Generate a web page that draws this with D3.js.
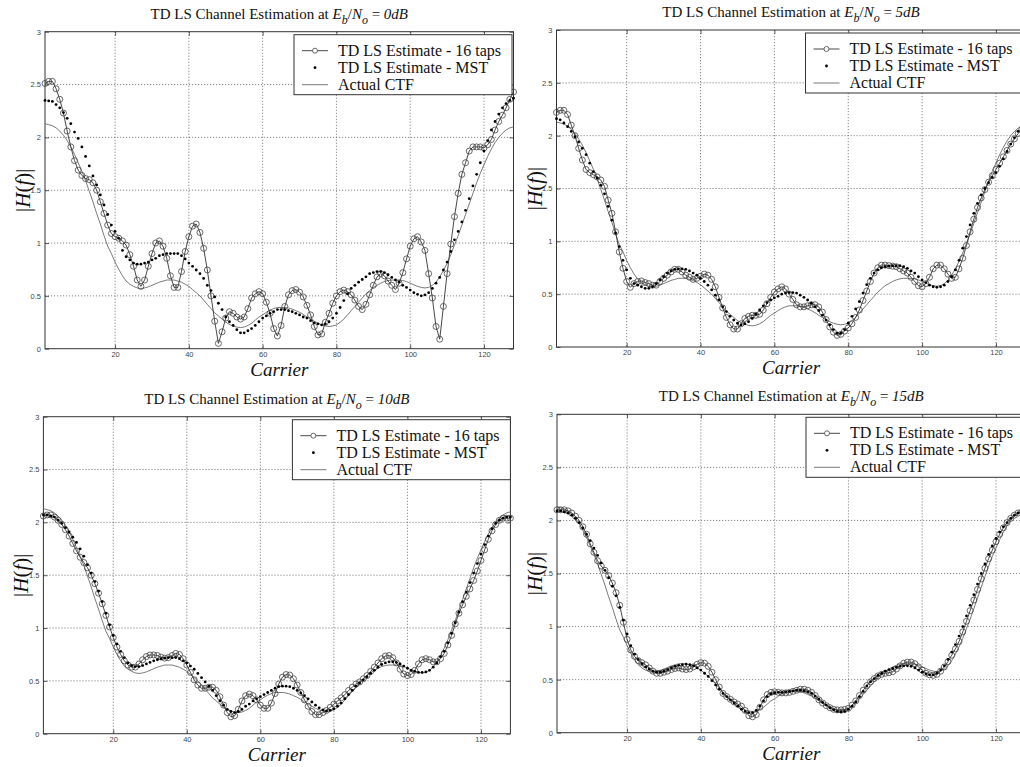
<!DOCTYPE html>
<html>
<head>
<meta charset="utf-8">
<script src="https://cdn.jsdelivr.net/npm/d3@7"></script>
<style>
  body { margin: 0; background: #fff; }
  svg { display: block; }
</style>
</head>
<body>
<svg id="chart" width="1020" height="767"></svg>
<script>
// ---- data ----
const carriers = d3.range(1, 129);
const xTicks = [20, 40, 60, 80, 100, 120];
const yTicks = [0, 0.5, 1, 1.5, 2, 2.5, 3];
const snrLabels = ['0dB', '5dB', '10dB', '15dB'];
const legendLabels = ['TD LS Estimate - 16 taps', 'TD LS Estimate - MST', 'Actual CTF'];

const actualCTF = [
  2.13, 2.12, 2.11, 2.09, 2.06, 2.02, 1.97, 1.91, 1.84, 1.76,
  1.68, 1.59, 1.49, 1.39, 1.28, 1.18, 1.07, 0.97, 0.90, 0.82,
  0.75, 0.69, 0.64, 0.61, 0.59, 0.575, 0.57, 0.575, 0.585, 0.60,
  0.615, 0.63, 0.64, 0.65, 0.65, 0.65, 0.64, 0.63, 0.61, 0.59,
  0.56, 0.53, 0.50, 0.46, 0.42, 0.38, 0.34, 0.31, 0.28, 0.25,
  0.23, 0.215, 0.205, 0.20, 0.205, 0.22, 0.24, 0.27, 0.30, 0.32,
  0.345, 0.365, 0.38, 0.39, 0.39, 0.39, 0.385, 0.375, 0.36, 0.345,
  0.325, 0.30, 0.28, 0.26, 0.24, 0.225, 0.215, 0.21, 0.215, 0.225,
  0.25, 0.28, 0.32, 0.36, 0.40, 0.44, 0.48, 0.52, 0.55, 0.58,
  0.60, 0.62, 0.635, 0.645, 0.65, 0.65, 0.65, 0.645, 0.635, 0.62,
  0.605, 0.59, 0.58, 0.575, 0.58, 0.60, 0.63, 0.68, 0.74, 0.81,
  0.89, 0.98, 1.07, 1.17, 1.27, 1.37, 1.47, 1.57, 1.66, 1.74,
  1.82, 1.89, 1.95, 2.00, 2.04, 2.07, 2.09, 2.10
];

const taps16_0dB = [
  2.51, 2.53, 2.53, 2.46, 2.36, 2.23, 2.06, 1.91, 1.78, 1.69,
  1.64, 1.61, 1.60, 1.57, 1.50, 1.39, 1.28, 1.17, 1.09, 1.06,
  1.045, 1.02, 0.98, 0.89, 0.78, 0.65, 0.59, 0.65, 0.78, 0.90,
  1.00, 1.02, 0.97, 0.855, 0.69, 0.58, 0.58, 0.73, 0.92, 1.06,
  1.16, 1.18, 1.10, 0.95, 0.745, 0.50, 0.26, 0.05, 0.16, 0.29,
  0.35, 0.335, 0.30, 0.28, 0.30, 0.38, 0.48, 0.52, 0.54, 0.52,
  0.44, 0.335, 0.19, 0.12, 0.22, 0.40, 0.51, 0.55, 0.56, 0.535,
  0.49, 0.41, 0.32, 0.21, 0.13, 0.14, 0.25, 0.335, 0.43, 0.50,
  0.54, 0.555, 0.54, 0.51, 0.46, 0.40, 0.37, 0.42, 0.51, 0.60,
  0.68, 0.71, 0.69, 0.64, 0.60, 0.56, 0.62, 0.72, 0.85, 0.97,
  1.04, 1.06, 1.01, 0.93, 0.71, 0.48, 0.21, 0.09, 0.40, 0.71,
  0.99, 1.25, 1.47, 1.65, 1.76, 1.87, 1.91, 1.91, 1.91, 1.90,
  1.93, 1.98, 2.07, 2.15, 2.21, 2.28, 2.36, 2.43
];
const mst_0dB = [
  2.35, 2.345, 2.34, 2.31, 2.28, 2.235, 2.18, 2.13, 2.05, 1.99,
  1.91, 1.82, 1.73, 1.635, 1.55, 1.455, 1.36, 1.27, 1.17, 1.11,
  1.045, 0.93, 0.87, 0.84, 0.81, 0.80, 0.80, 0.81, 0.82, 0.84,
  0.855, 0.88, 0.89, 0.90, 0.90, 0.90, 0.90, 0.88, 0.85, 0.81,
  0.78, 0.745, 0.71, 0.665, 0.60, 0.55, 0.49, 0.43, 0.37, 0.30,
  0.255, 0.22, 0.18, 0.15, 0.15, 0.17, 0.19, 0.22, 0.255, 0.29,
  0.31, 0.335, 0.35, 0.37, 0.37, 0.37, 0.36, 0.35, 0.335, 0.32,
  0.30, 0.29, 0.265, 0.245, 0.235, 0.225, 0.235, 0.255, 0.29, 0.335,
  0.39, 0.455, 0.52, 0.57, 0.60, 0.63, 0.655, 0.68, 0.71, 0.72,
  0.73, 0.73, 0.72, 0.70, 0.675, 0.65, 0.63, 0.60, 0.58, 0.555,
  0.53, 0.515, 0.50, 0.51, 0.53, 0.57, 0.62, 0.675, 0.745, 0.82,
  0.92, 1.03, 1.11, 1.20, 1.31, 1.42, 1.54, 1.65, 1.76, 1.87,
  1.97, 2.07, 2.15, 2.22, 2.28, 2.32, 2.35, 2.37
];

const taps16_5dB = [
  2.22, 2.24, 2.24, 2.20, 2.10, 2.00, 1.88, 1.77, 1.68, 1.65,
  1.63, 1.61, 1.58, 1.52, 1.39, 1.265, 1.09, 0.90, 0.745, 0.62,
  0.565, 0.60, 0.62, 0.625, 0.61, 0.60, 0.585, 0.585, 0.62, 0.65,
  0.68, 0.71, 0.735, 0.735, 0.71, 0.68, 0.66, 0.64, 0.65, 0.67,
  0.69, 0.68, 0.64, 0.57, 0.47, 0.37, 0.28, 0.21, 0.17, 0.17,
  0.22, 0.27, 0.29, 0.30, 0.30, 0.31, 0.35, 0.41, 0.47, 0.52,
  0.55, 0.57, 0.55, 0.50, 0.45, 0.40, 0.38, 0.38, 0.39, 0.40,
  0.40, 0.38, 0.33, 0.26, 0.19, 0.14, 0.11, 0.12, 0.15, 0.18,
  0.22, 0.28, 0.35, 0.44, 0.53, 0.62, 0.70, 0.75, 0.775, 0.775,
  0.77, 0.765, 0.76, 0.74, 0.72, 0.70, 0.66, 0.62, 0.58, 0.57,
  0.60, 0.66, 0.74, 0.775, 0.775, 0.74, 0.69, 0.65, 0.66, 0.74,
  0.84, 0.96, 1.09, 1.21, 1.32, 1.41, 1.49, 1.56, 1.62, 1.68,
  1.74, 1.80, 1.86, 1.92, 1.97, 2.02, 2.06, 2.10
];
const mst_5dB = [
  2.16, 2.15, 2.12, 2.085, 2.04, 1.99, 1.94, 1.88, 1.82, 1.74,
  1.66, 1.60, 1.53, 1.45, 1.33, 1.20, 1.08, 0.95, 0.82, 0.73,
  0.65, 0.60, 0.585, 0.57, 0.555, 0.555, 0.57, 0.60, 0.635, 0.665,
  0.70, 0.72, 0.735, 0.74, 0.74, 0.735, 0.72, 0.70, 0.68, 0.65,
  0.62, 0.585, 0.54, 0.49, 0.445, 0.38, 0.335, 0.29, 0.255, 0.225,
  0.21, 0.22, 0.24, 0.27, 0.31, 0.35, 0.39, 0.42, 0.445, 0.465,
  0.48, 0.50, 0.51, 0.515, 0.515, 0.51, 0.49, 0.47, 0.445, 0.415,
  0.38, 0.345, 0.30, 0.255, 0.21, 0.165, 0.13, 0.13, 0.165, 0.225,
  0.29, 0.36, 0.43, 0.51, 0.59, 0.65, 0.70, 0.73, 0.75, 0.76,
  0.765, 0.77, 0.77, 0.77, 0.76, 0.745, 0.72, 0.70, 0.665, 0.635,
  0.61, 0.585, 0.57, 0.565, 0.57, 0.585, 0.62, 0.665, 0.73, 0.82,
  0.935, 1.045, 1.155, 1.265, 1.36, 1.44, 1.50, 1.555, 1.605, 1.65,
  1.71, 1.78, 1.85, 1.92, 1.98, 2.04, 2.09, 2.13
];

const taps16_10dB = [
  2.06, 2.07, 2.07, 2.05, 2.02, 1.98, 1.93, 1.87, 1.80, 1.73,
  1.67, 1.62, 1.57, 1.50, 1.42, 1.33, 1.23, 1.12, 1.01, 0.91,
  0.82, 0.75, 0.69, 0.65, 0.63, 0.63, 0.66, 0.70, 0.73, 0.745,
  0.745, 0.74, 0.725, 0.715, 0.72, 0.74, 0.76, 0.75, 0.71, 0.65,
  0.58, 0.51, 0.46, 0.43, 0.43, 0.44, 0.44, 0.41, 0.35, 0.27,
  0.20, 0.16, 0.17, 0.23, 0.31, 0.36, 0.375, 0.36, 0.32, 0.27,
  0.24, 0.24, 0.29, 0.38, 0.47, 0.535, 0.56, 0.555, 0.52, 0.46,
  0.39, 0.32, 0.26, 0.21, 0.18, 0.18, 0.20, 0.22, 0.25, 0.28,
  0.31, 0.34, 0.37, 0.41, 0.44, 0.47, 0.49, 0.52, 0.55, 0.59,
  0.63, 0.67, 0.71, 0.735, 0.74, 0.72, 0.67, 0.61, 0.565, 0.55,
  0.56, 0.60, 0.66, 0.70, 0.71, 0.70, 0.68, 0.68, 0.71, 0.76,
  0.84, 0.93, 1.04, 1.14, 1.22, 1.30, 1.37, 1.45, 1.54, 1.64,
  1.74, 1.84, 1.92, 1.98, 2.02, 2.04, 2.04, 2.04
];
const mst_10dB = [
  2.07, 2.07, 2.06, 2.05, 2.02, 1.99, 1.95, 1.91, 1.86, 1.81,
  1.75, 1.68, 1.60, 1.52, 1.44, 1.35, 1.25, 1.14, 1.03, 0.93,
  0.85, 0.78, 0.72, 0.67, 0.645, 0.635, 0.635, 0.645, 0.66, 0.675,
  0.69, 0.70, 0.71, 0.715, 0.72, 0.72, 0.72, 0.71, 0.69, 0.67,
  0.64, 0.61, 0.57, 0.53, 0.49, 0.45, 0.41, 0.36, 0.31, 0.27,
  0.23, 0.21, 0.20, 0.21, 0.23, 0.26, 0.28, 0.31, 0.33, 0.35,
  0.37, 0.39, 0.41, 0.43, 0.445, 0.45, 0.45, 0.445, 0.43, 0.41,
  0.385, 0.36, 0.33, 0.30, 0.27, 0.245, 0.225, 0.215, 0.22, 0.235,
  0.26, 0.29, 0.33, 0.37, 0.41, 0.45, 0.48, 0.51, 0.54, 0.57,
  0.60, 0.63, 0.655, 0.67, 0.68, 0.68, 0.675, 0.66, 0.64, 0.62,
  0.60, 0.59, 0.58, 0.58, 0.585, 0.60, 0.63, 0.67, 0.73, 0.78,
  0.86, 0.95, 1.05, 1.15, 1.25, 1.34, 1.43, 1.52, 1.61, 1.70,
  1.79, 1.87, 1.94, 1.99, 2.02, 2.04, 2.05, 2.05
];

const taps16_15dB = [
  2.10, 2.10, 2.10, 2.09, 2.07, 2.04, 2.00, 1.94, 1.87, 1.78,
  1.70, 1.62, 1.57, 1.53, 1.48, 1.41, 1.32, 1.20, 1.04, 0.88,
  0.78, 0.72, 0.68, 0.66, 0.64, 0.61, 0.58, 0.56, 0.56, 0.57,
  0.58, 0.595, 0.605, 0.61, 0.60, 0.595, 0.60, 0.62, 0.645, 0.66,
  0.655, 0.625, 0.57, 0.50, 0.43, 0.37, 0.34, 0.315, 0.29, 0.27,
  0.25, 0.21, 0.16, 0.15, 0.17, 0.24, 0.31, 0.36, 0.38, 0.385,
  0.38, 0.375, 0.375, 0.38, 0.39, 0.40, 0.41, 0.41, 0.40, 0.38,
  0.35, 0.31, 0.28, 0.255, 0.235, 0.22, 0.215, 0.215, 0.22, 0.23,
  0.26, 0.30, 0.35, 0.40, 0.445, 0.48, 0.51, 0.535, 0.55, 0.56,
  0.565, 0.575, 0.60, 0.63, 0.655, 0.665, 0.665, 0.65, 0.62, 0.59,
  0.56, 0.545, 0.54, 0.55, 0.58, 0.62, 0.67, 0.73, 0.79, 0.86,
  0.95, 1.05, 1.15, 1.25, 1.35, 1.45, 1.55, 1.64, 1.72, 1.80,
  1.87, 1.93, 1.98, 2.02, 2.05, 2.07, 2.08, 2.09
];
const mst_15dB = [
  2.09, 2.09, 2.08, 2.07, 2.05, 2.02, 1.98, 1.93, 1.87, 1.81,
  1.74, 1.67, 1.60, 1.53, 1.46, 1.38, 1.29, 1.18, 1.06, 0.93,
  0.82, 0.74, 0.69, 0.65, 0.62, 0.60, 0.58, 0.57, 0.57, 0.58,
  0.595, 0.61, 0.625, 0.635, 0.64, 0.645, 0.64, 0.63, 0.61, 0.59,
  0.56, 0.53, 0.49, 0.45, 0.41, 0.37, 0.34, 0.31, 0.28, 0.25,
  0.22, 0.20, 0.19, 0.19, 0.21, 0.25, 0.30, 0.34, 0.365, 0.375,
  0.38, 0.38, 0.385, 0.39, 0.395, 0.40, 0.40, 0.395, 0.385, 0.37,
  0.345, 0.315, 0.285, 0.26, 0.235, 0.215, 0.20, 0.195, 0.20, 0.22,
  0.25, 0.29, 0.34, 0.39, 0.44, 0.48, 0.51, 0.54, 0.56, 0.58,
  0.595, 0.605, 0.615, 0.625, 0.63, 0.63, 0.625, 0.61, 0.59, 0.57,
  0.555, 0.545, 0.545, 0.56, 0.59, 0.63, 0.69, 0.76, 0.83, 0.91,
  1.00, 1.10, 1.20, 1.30, 1.40, 1.50, 1.59, 1.68, 1.76, 1.83,
  1.89, 1.94, 1.98, 2.02, 2.05, 2.07, 2.08, 2.09
];

const tapsSeries = [taps16_0dB, taps16_5dB, taps16_10dB, taps16_15dB];
const mstSeries = [mst_0dB, mst_5dB, mst_10dB, mst_15dB];

// ---- layout (plot areas of the four panels) ----
const panels = [
  { left: 45, right: 513.5, top: 31.7, bottom: 348.7 },
  { left: 556.5, right: 1025.5, top: 30, bottom: 347 },
  { left: 43.4, right: 510.4, top: 416.7, bottom: 733.7 },
  { left: 557, right: 1025.5, top: 414.3, bottom: 732.7 }
];

const serif = "'Liberation Serif', 'Times New Roman', serif";
const sans = "'Liberation Sans', Arial, sans-serif";
const svg = d3.select('#chart');

const drawPanel = (i) => {
  const box = panels[i];
  const g = svg.append('g').attr('class', `panel_${i}`);
  const x = d3.scaleLinear().domain([1, 128]).range([box.left, box.right]);
  const y = d3.scaleLinear().domain([0, 3]).range([box.bottom, box.top]);

  // grid
  g.selectAll('line.gx')
    .data(xTicks)
    .enter()
    .append('line')
    .attr('x1', d => x(d)).attr('x2', d => x(d))
    .attr('y1', box.top).attr('y2', box.bottom)
    .attr('stroke', '#555')
    .attr('stroke-width', 0.7)
    .attr('stroke-dasharray', '1.2,1.8');
  g.selectAll('line.gy')
    .data(yTicks.slice(1, -1))
    .enter()
    .append('line')
    .attr('x1', box.left).attr('x2', box.right)
    .attr('y1', d => y(d)).attr('y2', d => y(d))
    .attr('stroke', '#555')
    .attr('stroke-width', 0.7)
    .attr('stroke-dasharray', '1.2,1.8');

  // axes, ticks pointing inward
  const styleAxis = (sel, labels) => {
    sel.select('.domain').remove();
    sel.selectAll('.tick line').attr('stroke', '#333').attr('stroke-width', 0.8);
    sel.selectAll('.tick text')
      .attr('font-family', sans)
      .attr('font-size', 7.5)
      .attr('fill', '#444');
    if (!labels) sel.selectAll('.tick text').remove();
  };
  g.append('g')
    .attr('transform', `translate(0,${box.bottom})`)
    .call(d3.axisBottom(x).tickValues(xTicks).tickSize(-4).tickPadding(3))
    .call(s => styleAxis(s, true));
  g.append('g')
    .attr('transform', `translate(0,${box.top})`)
    .call(d3.axisTop(x).tickValues(xTicks).tickSize(-4))
    .call(s => styleAxis(s, false));
  g.append('g')
    .attr('transform', `translate(${box.left},0)`)
    .call(d3.axisLeft(y).tickValues(yTicks).tickFormat(d => String(d)).tickSize(-4).tickPadding(4))
    .call(s => styleAxis(s, true));
  g.append('g')
    .attr('transform', `translate(${box.right},0)`)
    .call(d3.axisRight(y).tickValues(yTicks).tickSize(-4))
    .call(s => styleAxis(s, false));

  g.append('rect')
    .attr('x', box.left).attr('y', box.top)
    .attr('width', box.right - box.left)
    .attr('height', box.bottom - box.top)
    .attr('fill', 'none')
    .attr('stroke', '#333')
    .attr('stroke-width', 1);

  // actual CTF
  const line = d3.line().x((d, k) => x(carriers[k])).y(d => y(d));
  g.append('path')
    .datum(actualCTF)
    .attr('d', line)
    .attr('fill', 'none')
    .attr('stroke', '#6a6a6a')
    .attr('stroke-width', 0.9);

  // 16 taps estimate: line + open circles
  g.append('path')
    .datum(tapsSeries[i])
    .attr('d', line)
    .attr('fill', 'none')
    .attr('stroke', '#333')
    .attr('stroke-width', 0.9);
  g.selectAll('circle.tap')
    .data(tapsSeries[i])
    .enter()
    .append('circle')
    .attr('cx', (d, k) => x(carriers[k]))
    .attr('cy', d => y(d))
    .attr('r', 3)
    .attr('fill', 'none')
    .attr('stroke', '#444')
    .attr('stroke-width', 0.8);

  // MST estimate: dots
  g.selectAll('circle.mst')
    .data(mstSeries[i])
    .enter()
    .append('circle')
    .attr('cx', (d, k) => x(carriers[k]))
    .attr('cy', d => y(d))
    .attr('r', 1.4)
    .attr('fill', '#000');

  // title
  const cx = (box.left + box.right) / 2;
  const title = g.append('text')
    .attr('x', cx)
    .attr('y', box.top - 13)
    .attr('text-anchor', 'middle')
    .attr('font-family', serif)
    .attr('font-size', 15)
    .attr('fill', '#111');
  title.append('tspan').text('TD LS Channel Estimation at ');
  title.append('tspan').attr('font-style', 'italic').text('E');
  title.append('tspan').attr('font-style', 'italic').attr('font-size', 12).attr('dy', 5).text('b');
  title.append('tspan').attr('dy', -5).text('/');
  title.append('tspan').attr('font-style', 'italic').text('N');
  title.append('tspan').attr('font-style', 'italic').attr('font-size', 12).attr('dy', 5).text('o');
  title.append('tspan').attr('dy', -5).text(' = ');
  title.append('tspan').attr('font-style', 'italic').text(snrLabels[i]);

  // axis labels
  g.append('text')
    .attr('x', cx)
    .attr('y', box.bottom + 27)
    .attr('text-anchor', 'middle')
    .attr('font-family', serif)
    .attr('font-style', 'italic')
    .attr('font-size', 19)
    .attr('fill', '#111')
    .text('Carrier');
  const yl = g.append('text')
    .attr('transform', `translate(${box.left - 15},${(box.top + box.bottom) / 2}) rotate(-90)`)
    .attr('text-anchor', 'middle')
    .attr('font-family', serif)
    .attr('font-size', 21)
    .attr('fill', '#111');
  yl.append('tspan').text('|');
  yl.append('tspan').attr('font-style', 'italic').text('H');
  yl.append('tspan').text('(');
  yl.append('tspan').attr('font-style', 'italic').text('f');
  yl.append('tspan').text(')|');

  // legend
  const lx = box.left + 249;
  const ly = box.top + 3;
  const lg = g.append('g').attr('transform', `translate(${lx},${ly})`);
  lg.append('rect')
    .attr('width', 218).attr('height', 60)
    .attr('fill', '#fff')
    .attr('stroke', '#333')
    .attr('stroke-width', 1);
  legendLabels.forEach((label, k) => {
    const by = 21 + k * 17;
    const my = by - 5;
    if (k !== 1) {
      lg.append('line')
        .attr('x1', 8).attr('x2', 34)
        .attr('y1', my).attr('y2', my)
        .attr('stroke', k === 0 ? '#333' : '#6a6a6a')
        .attr('stroke-width', 0.9);
    }
    if (k === 0) {
      lg.append('circle').attr('cx', 21).attr('cy', my).attr('r', 2.5)
        .attr('fill', '#fff').attr('stroke', '#444').attr('stroke-width', 0.8);
    }
    if (k === 1) {
      lg.append('circle').attr('cx', 21).attr('cy', my).attr('r', 1.4).attr('fill', '#000');
    }
    lg.append('text')
      .attr('x', 44).attr('y', by)
      .attr('font-family', serif)
      .attr('font-size', 16)
      .attr('fill', '#111')
      .text(label);
  });
};

panels.forEach((p, i) => drawPanel(i));
</script>
</body>
</html>
